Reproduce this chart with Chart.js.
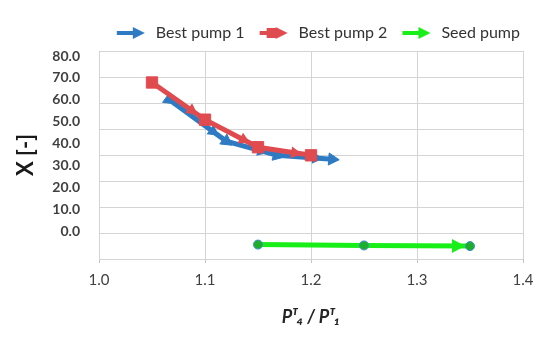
<!DOCTYPE html>
<html>
<head>
<meta charset="utf-8">
<script src="https://cdn.jsdelivr.net/npm/chart.js@4.4.1/dist/chart.umd.min.js"></script>
<style>
html, body { margin: 0; padding: 0; background: #fff; }
</style>
</head>
<body>
<canvas id="pumpChart" width="550" height="343"></canvas>
<script>
// values
const seriesNames = ['Best pump 1', 'Best pump 2', 'Seed pump'];
const pump1X = [1.066, 1.12, 1.168, 1.22];
const pump1Y = [60.1, 41.1, 34.6, 32.8];
const pump2X = [1.05, 1.10, 1.15, 1.20];
const pump2Y = [67.9, 50.9, 38.3, 34.6];
const seedX = [1.15, 1.25, 1.35];
const seedY = [-6.2, -6.6, -6.9];
const yTicks = [0, 10, 20, 30, 40, 50, 60, 70, 80];
const xTicks = [1.0, 1.1, 1.2, 1.3, 1.4];

const BLUE = '#2e7bc4';
const RED = '#e04b4f';
const GREEN = '#18ee18';

function toPoints(xs, ys) {
    return xs.map((x, i) => ({ x: x, y: ys[i] }));
}

function arrowHead(ctx, x, y, ang, len, half, color) {
    ctx.save();
    ctx.translate(x, y);
    ctx.rotate(ang);
    ctx.beginPath();
    ctx.moveTo(0, 0);
    ctx.lineTo(-len, -half);
    ctx.lineTo(-len, half);
    ctx.closePath();
    ctx.fillStyle = color;
    ctx.fill();
    ctx.restore();
}

function legendIcon(color, square) {
    const c = document.createElement('canvas');
    c.width = 32;
    c.height = 14;
    const g = c.getContext('2d');
    g.strokeStyle = color;
    g.lineWidth = 4;
    g.beginPath();
    g.moveTo(2, 7);
    g.lineTo(20, 7);
    g.stroke();
    arrowHead(g, 30, 7, 0, 12, 6, color);
    if (square) {
        g.fillStyle = color;
        g.fillRect(9, 2, 10, 10);
    }
    return c;
}
const icons = [legendIcon(BLUE, false), legendIcon(RED, true), legendIcon(GREEN, false)];

// rotate triangle markers along the line
function alongLine(ctx) {
    const data = ctx.chart.data.datasets[ctx.datasetIndex].data;
    const xs = ctx.chart.scales.x, ys = ctx.chart.scales.y;
    let i = ctx.dataIndex;
    let a = i > 0 ? i - 1 : 0;
    let b = i > 0 ? i : 1;
    const dx = xs.getPixelForValue(data[b].x) - xs.getPixelForValue(data[a].x);
    const dy = ys.getPixelForValue(data[b].y) - ys.getPixelForValue(data[a].y);
    return Math.atan2(dy, dx) * 180 / Math.PI + 90;
}

// arrow heads at the end of each line segment
const segmentArrows = {
    id: 'segmentArrows',
    afterDatasetDraw(chart, args) {
        const ds = chart.data.datasets[args.index];
        const a = ds.arrows;
        if (!a) return;
        const pts = args.meta.data;
        const ctx = chart.ctx;
        const from = a.lastOnly ? pts.length - 1 : 1;
        for (let i = from; i < pts.length; i++) {
            const p0 = pts[i - 1], p1 = pts[i];
            const ang = Math.atan2(p1.y - p0.y, p1.x - p0.x);
            arrowHead(ctx, p1.x - a.back * Math.cos(ang), p1.y - a.back * Math.sin(ang),
                ang, a.len, a.half, ds.borderColor);
        }
    }
};

const ctx = document.getElementById('pumpChart').getContext('2d');
new Chart(ctx, {
    type: 'scatter',
    data: {
        datasets: [{
            label: seriesNames[0],
            data: toPoints(pump1X, pump1Y),
            showLine: true,
            borderColor: BLUE,
            backgroundColor: BLUE,
            borderWidth: 5,
            pointStyle: 'triangle',
            pointRadius: 7,
            pointBorderWidth: 1,
            pointRotation: alongLine,
            arrows: { back: 9, len: 11, half: 6 },
            order: 2
        }, {
            label: seriesNames[1],
            data: toPoints(pump2X, pump2Y),
            showLine: true,
            borderColor: RED,
            backgroundColor: RED,
            borderWidth: 5,
            pointStyle: 'rect',
            pointRadius: 8,
            pointBorderWidth: 1,
            arrows: { back: 9, len: 11, half: 6 },
            order: 1
        }, {
            label: seriesNames[2],
            data: toPoints(seedX, seedY),
            showLine: true,
            borderColor: GREEN,
            backgroundColor: '#1fae2a',
            borderWidth: 5,
            pointStyle: 'circle',
            pointRadius: 4.5,
            pointBorderWidth: 1,
            pointBorderColor: '#3a8fd0',
            arrows: { back: 5, len: 13, half: 7, lastOnly: true },
            order: 3
        }]
    },
    options: {
        responsive: false,
        animation: false,
        layout: { padding: { left: 8, right: 18, top: 13, bottom: 0 } },
        plugins: {
            tooltip: { enabled: false },
            legend: {
                position: 'top',
                align: 'end',
                labels: {
                    usePointStyle: true,
                    pointStyleWidth: 34,
                    boxHeight: 14,
                    padding: 12,
                    color: '#333333',
                    font: { family: 'Lato', size: 16 },
                    sort: (a, b) => a.datasetIndex - b.datasetIndex,
                    generateLabels: chart => {
                        const items = Chart.defaults.plugins.legend.labels.generateLabels(chart);
                        items.forEach(it => {
                            it.pointStyle = icons[it.datasetIndex];
                            it.rotation = 0;
                        });
                        return items;
                    }
                }
            }
        },
        scales: {
            x: {
                type: 'linear',
                min: 1.0,
                max: 1.4,
                afterBuildTicks: axis => { axis.ticks = xTicks.map(v => ({ value: v })); },
                afterFit: axis => { axis.height = 84; },
                grid: { color: '#d4d4d4', tickLength: 4, tickColor: '#c4c4c4' },
                border: { display: false },
                ticks: {
                    padding: 8,
                    maxRotation: 0,
                    color: '#404040',
                    font: { family: 'Lato', size: 15 },
                    callback: v => v.toFixed(1)
                },
                title: {
                    display: true,
                    text: 'Pᵀ₄ / Pᵀ₁',
                    color: '#262626',
                    font: { family: 'Lato, "DejaVu Sans"', size: 18, weight: 'bold', style: 'italic' },
                    padding: { top: 0, bottom: 15 }
                }
            },
            y: {
                type: 'linear',
                position: 'left',
                min: -12.8,
                max: 82.3,
                afterBuildTicks: axis => { axis.ticks = yTicks.map(v => ({ value: v })); },
                afterFit: axis => { axis.width = 91; },
                grid: { display: false, drawTicks: false },
                border: { display: false },
                ticks: {
                    padding: 19,
                    color: '#404040',
                    font: { family: 'Lato', size: 14, weight: 'bold' },
                    callback: v => v.toFixed(1)
                },
                title: {
                    display: true,
                    text: 'X [-]',
                    color: '#1a1a1a',
                    font: { family: 'Lato', size: 22, weight: 'bold' },
                    padding: { top: 5, bottom: 0 }
                }
            },
            y2: {
                type: 'linear',
                position: 'left',
                min: 0,
                max: 80,
                afterFit: axis => { axis.width = 0; },
                grid: { color: '#d4d4d4', drawTicks: false },
                border: { display: false },
                ticks: { display: false, stepSize: 10 }
            },
            // empty spacer on the right so the legend can run past the plot edge
            yPad: {
                type: 'linear',
                position: 'right',
                afterFit: axis => { axis.width = 9; },
                grid: { display: false, drawTicks: false },
                border: { display: false },
                ticks: { display: false }
            }
        }
    },
    plugins: [segmentArrows]
});
</script>
</body>
</html>
